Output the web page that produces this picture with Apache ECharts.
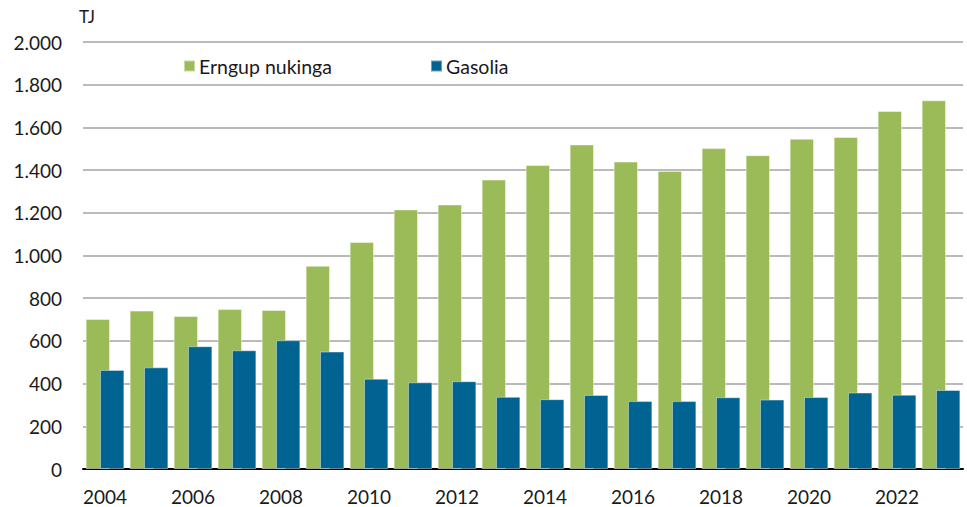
<!DOCTYPE html>
<html>
<head>
<meta charset="utf-8">
<script src="https://cdn.jsdelivr.net/npm/echarts@6/dist/echarts.min.js"></script>
<style>
html,body{margin:0;padding:0;background:#fff;}
#c{width:967px;height:507px;}
</style>
</head>
<body>
<div id="c"></div>
<script>
const years = ['2004','2005','2006','2007','2008','2009','2010','2011','2012','2013','2014','2015','2016','2017','2018','2019','2020','2021','2022','2023'];
const erngupNukinga = [703, 742, 717, 749, 745, 952, 1063, 1216, 1239, 1356, 1424, 1520, 1440, 1396, 1503, 1470, 1547, 1555, 1677, 1727];
const gasolia = [464, 476, 575, 556, 603, 550, 423, 406, 411, 338, 327, 347, 318, 318, 336, 325, 337, 358, 348, 370];
const seriesNames = ['Erngup nukinga', 'Gasolia'];
const unitLabel = 'TJ';

const FONT = 'Lato';
const chart = echarts.init(document.getElementById('c'), null, {renderer: 'svg'});
chart.setOption({
  animation: false,
  backgroundColor: '#ffffff',
  grid: {left: 83, right: 4, top: 42, bottom: 38, containLabel: false},
  legend: [
    {data: [seriesNames[0]], left: 178, top: 51, itemWidth: 11, itemHeight: 11, itemGap: 0,
     icon: 'rect', textStyle: {fontFamily: FONT, fontSize: 19.5, color: '#1a1a1a', padding: [0,0,0,-1]}},
    {data: [seriesNames[1]], left: 425, top: 51, itemWidth: 11, itemHeight: 11, itemGap: 0,
     icon: 'rect', textStyle: {fontFamily: FONT, fontSize: 19.5, color: '#1a1a1a', padding: [0,0,0,-1]}}
  ],
  graphic: [{type: 'text', left: 79, top: 8, style: {text: unitLabel, font: '17px ' + FONT, fill: '#1a1a1a'}}],
  xAxis: {
    type: 'category', data: years,
    axisLine: {show: true, lineStyle: {color: '#000', width: 2}},
    axisTick: {show: false},
    axisLabel: {interval: 1, margin: 18, fontFamily: FONT, fontSize: 19, color: '#1a1a1a'}
  },
  yAxis: {
    type: 'value', min: 0, max: 2000, interval: 200,
    axisLine: {show: false}, axisTick: {show: false},
    splitLine: {lineStyle: {color: '#a3a3a3', width: 1.6}},
    axisLabel: {margin: 21, fontFamily: FONT, fontSize: 19, color: '#1a1a1a',
      formatter: v => v >= 1000 ? Math.floor(v/1000) + '.' + String(v % 1000).padStart(3,'0') : String(v)}
  },
  series: [
    {name: seriesNames[0], type: 'bar', data: erngupNukinga, barCategoryGap: '12%', barGap: '-41%',
     itemStyle: {color: '#9bbb59', borderColor: 'rgba(255,255,255,0.45)', borderWidth: 1}},
    {name: seriesNames[1], type: 'bar', data: gasolia, barCategoryGap: '12%', barGap: '-41%',
     itemStyle: {color: '#006391', borderColor: 'rgba(255,255,255,0.4)', borderWidth: 1}}
  ]
});
</script>
</body>
</html>
